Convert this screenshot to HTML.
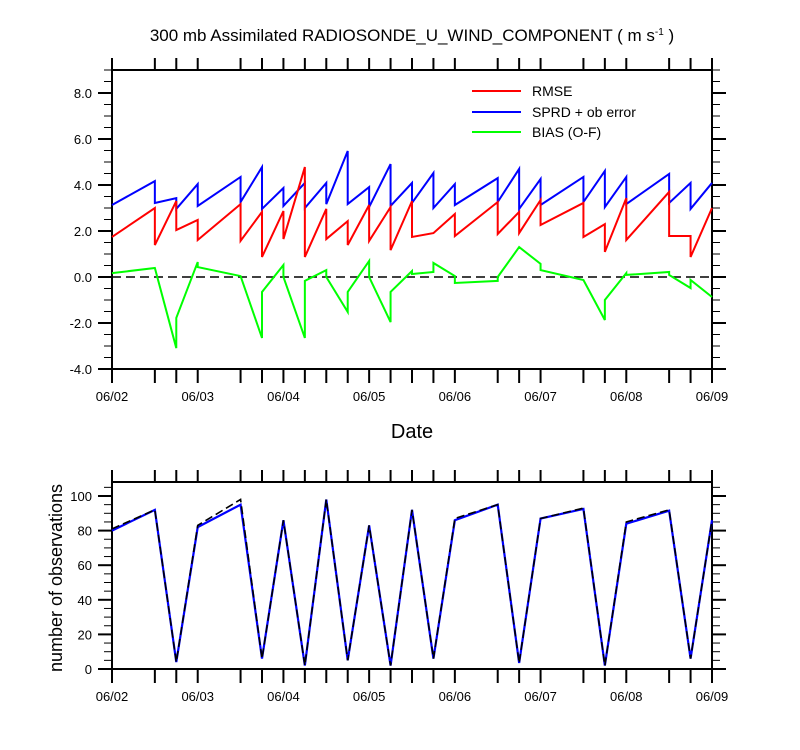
<!DOCTYPE html>
<html><head><meta charset="utf-8"><style>
html,body{margin:0;padding:0;background:#fff;}
svg{display:block;font-family:"Liberation Sans",Arial,sans-serif;}
</style></head><body>
<svg id="chart" width="800" height="750" viewBox="0 0 800 750">
<text x="412" y="41" font-size="17" text-anchor="middle">300 mb Assimilated RADIOSONDE_U_WIND_COMPONENT ( m s<tspan dy="-6" font-size="10">-1</tspan><tspan dy="6"> )</tspan></text>
<text x="412" y="438" font-size="20" text-anchor="middle">Date</text>
<text transform="translate(62,578) rotate(-90)" font-size="18" text-anchor="middle">number of observations</text>
<g id="topPanel"></g>
<g id="botPanel"></g>
<g>
<line x1="472" y1="91" x2="521" y2="91" stroke="#ff0000" stroke-width="2"/>
<text x="532" y="96" font-size="14">RMSE</text>
<line x1="472" y1="112" x2="521" y2="112" stroke="#0000ff" stroke-width="2"/>
<text x="532" y="117" font-size="14">SPRD + ob error</text>
<line x1="472" y1="132" x2="521" y2="132" stroke="#00ff00" stroke-width="2"/>
<text x="532" y="137" font-size="14">BIAS (O-F)</text>
</g>
</svg>
<script>
// times in days since 06/02 00Z
const times = [0,0.5,0.75,1,1.5,1.75,2,2.25,2.5,2.75,3,3.25,3.5,3.75,4,4.5,4.75,5,5.5,5.75,6,6.5,6.75,7];
const dayLabels = ["06/02","06/03","06/04","06/05","06/06","06/07","06/08","06/09"];
// each time: value arriving (in) and value leaving (out)
const sprdIn  = [null,4.17,3.43,4.04,4.35,4.78,3.87,4.09,4.09,5.48,3.91,4.91,4.09,4.52,4.04,4.30,4.70,4.26,4.35,4.61,4.35,4.48,4.09,4.09];
const sprdOut = [3.13,3.22,2.96,3.09,3.26,2.96,3.09,3.00,3.17,3.17,3.04,3.09,3.22,3.00,3.13,3.26,2.96,3.13,3.26,3.04,3.17,3.22,2.96,null];
const rmseIn  = [null,3.00,3.30,2.48,3.17,2.83,2.87,4.78,2.96,2.43,3.13,3.04,3.30,1.91,2.74,3.26,2.83,3.35,3.22,2.30,3.43,3.70,1.78,3.00];
const rmseOut = [1.74,1.39,2.04,1.61,1.57,0.87,1.65,0.87,1.65,1.39,1.57,1.17,1.74,1.91,1.78,1.87,1.91,2.26,1.74,1.09,1.61,1.78,0.87,null];
const biasIn  = [null,0.39,-3.09,0.65,0.04,-2.65,0.52,-2.65,0.30,-1.52,0.70,-1.96,0.26,0.22,0.04,-0.17,1.30,0.57,-0.13,-1.87,0.17,0.22,-0.48,-0.87];
const biasOut = [0.17,0.39,-1.78,0.43,0.04,-0.65,0.00,-0.17,0.00,-0.65,0.00,-0.65,0.13,0.61,-0.26,0.00,1.30,0.30,-0.13,-1.00,0.09,0.09,-0.13,null];
const obsUsed = [80,92,4,82,95,6,86,2,98,5,83,2,92,6,86,95,3.5,87,92.5,2,84,91.5,6,86];
const obsAll  = [81,92,4,83,98,6,86,2,98,5,83,2,92,6,87,95,3.5,87,93,2,85,92,6,86];
const topTicks = [-4,-2,0,2,4,6,8];
const botTicks = [0,20,40,60,80,100];

const NS="http://www.w3.org/2000/svg";
function mk(tag,attrs,parent){const e=document.createElementNS(NS,tag);for(const k in attrs)e.setAttribute(k,attrs[k]);parent.appendChild(e);return e;}
const X0=112,X1=712;
const xs=t=>X0+(X1-X0)*t/7;
const yTop=v=>277-23*v;
const yBot=v=>669-1.73*v;

function frame(g,ty,by,yfn,ymin,ymax,ticks,minorStep,fmt,labPrefix){
  const r=mk('rect',{x:X0,y:ty,width:X1-X0,height:by-ty,fill:'none',stroke:'#000','stroke-width':2},g);
  
  
  times.forEach(t=>{
    const x=xs(t);
    const a=mk('line',{x1:x,y1:by,x2:x,y2:by+14,stroke:'#000','stroke-width':2},g);
    
    
    const b=mk('line',{x1:x,y1:ty,x2:x,y2:ty-12,stroke:'#000','stroke-width':2},g);
    
    
  });
  dayLabels.forEach((d,i)=>{
    const tx=mk('text',{x:xs(i),y:by+32,'font-size':13,'text-anchor':'middle'},g);
    tx.textContent=d;
    
    
  });
  for(let v=ymin;v<=ymax+1e-9;v+=minorStep){
    const y=yfn(v);
    const l=mk('line',{x1:X0-8,y1:y,x2:X0,y2:y,stroke:'#000','stroke-width':1},g);
    
    
    const l2=mk('line',{x1:X1,y1:y,x2:X1+8,y2:y,stroke:'#000','stroke-width':1},g);
    
    
  }
  ticks.forEach(v=>{
    const y=yfn(v);
    const l=mk('line',{x1:X0-14,y1:y,x2:X0,y2:y,stroke:'#000','stroke-width':2},g);
    
    
    const l2=mk('line',{x1:X1,y1:y,x2:X1+14,y2:y,stroke:'#000','stroke-width':2},g);
    
    
    const tx=mk('text',{x:X0-20,y:y+5,'font-size':13,'text-anchor':'end'},g);
    tx.textContent=fmt(v);
    
    
  });
}
function stepPath(inArr,outArr,yfn){
  let d='';
  times.forEach((t,i)=>{
    const x=xs(t);
    if(inArr[i]!==null) d+=(d?'L':'M')+x+','+yfn(inArr[i]);
    if(outArr[i]!==null) d+=(d?'L':'M')+x+','+yfn(outArr[i]);
  });
  return d;
}
const topG=document.getElementById('topPanel');
frame(topG,70,369,yTop,-4,9,topTicks,0.5,v=>v.toFixed(1),'top');
const zl=mk('line',{x1:X0,y1:yTop(0),x2:X1,y2:yTop(0),stroke:'#000','stroke-width':1.5,'stroke-dasharray':'9,5'},topG);


[[sprdIn,sprdOut,'#0000ff','sprd-line'],[rmseIn,rmseOut,'#ff0000','rmse-line'],[biasIn,biasOut,'#00ff00','bias-line']].forEach(s=>{
  const p=mk('path',{d:stepPath(s[0],s[1],yTop),fill:'none',stroke:s[2],'stroke-width':2,'stroke-linejoin':'miter'},topG);
  
  
});
const botG=document.getElementById('botPanel');
frame(botG,482,669,yBot,0,105,botTicks,5,v=>String(v),'bottom');
const pts=a=>a.map((v,i)=>xs(times[i])+','+yBot(v)).join(' ');
const pu=mk('polyline',{points:pts(obsUsed),fill:'none',stroke:'#0000ff','stroke-width':2.2},botG);


const pa=mk('polyline',{points:pts(obsAll),fill:'none',stroke:'#000','stroke-width':1.6,'stroke-dasharray':'8,4'},botG);


</script>
</body></html>
